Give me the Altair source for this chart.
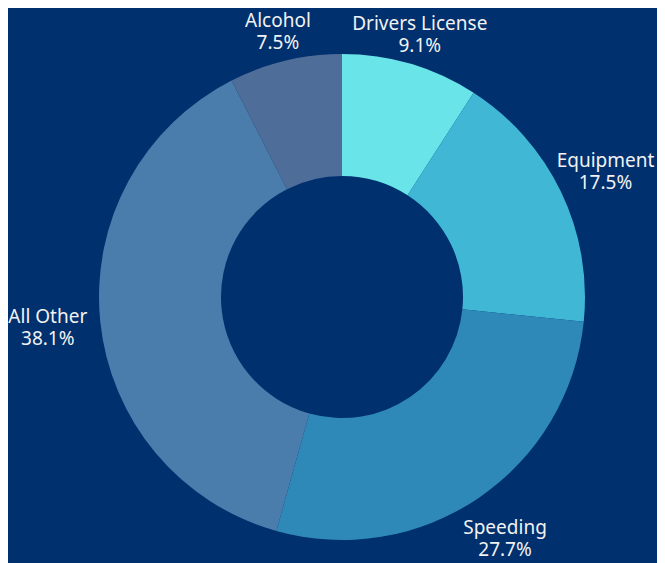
import altair as alt
import pandas as pd

categories = ["Drivers License", "Equipment", "Speeding", "All Other", "Alcohol"]
shares = [9.1, 17.5, 27.7, 38.1, 7.5]
colors = ["#69E4E8", "#41B7D6", "#2E89B8", "#4A7DAB", "#4F6D99"]
order_idx = [0, 1, 2, 3, 4]

df = pd.DataFrame({"category": categories, "share": shares, "idx": order_idx})

BG = "#00306E"
CX, CY = 334, 289

base = alt.Chart(df)

arcs = base.mark_arc(innerRadius=121, outerRadius=243).encode(
    theta=alt.Theta("share:Q", stack=True),
    order=alt.Order("idx:Q", sort="ascending"),
    color=alt.Color("category:N", scale=alt.Scale(domain=categories, range=colors), legend=None),
    x=alt.value(CX),
    y=alt.value(CY),
)

label_base = (
    base.transform_joinaggregate(total="sum(share)")
    .transform_window(cum="sum(share)", sort=[alt.SortField("idx")], frame=[None, 0])
    .transform_calculate(
        mid="(datum.cum - datum.share/2)/datum.total*2*PI",
        r="268 + 27*abs(sin(datum.mid)) + 8*max(0, -cos(datum.mid))",
        lx=f"{CX} + datum.r*sin(datum.mid)",
        ly=f"{CY} - datum.r*cos(datum.mid)",
        pct="format(datum.share, '.1f') + '%'",
    )
)

text_style = dict(font="Noto Sans", fontSize=19, color="#F2F2F2", align="center", baseline="middle")

name_text = label_base.mark_text(dy=-9, **text_style).encode(
    x=alt.X("lx:Q", scale=None, axis=None),
    y=alt.Y("ly:Q", scale=None, axis=None),
    text="category:N",
)
pct_text = label_base.mark_text(dy=13, **text_style).encode(
    x=alt.X("lx:Q", scale=None, axis=None),
    y=alt.Y("ly:Q", scale=None, axis=None),
    text="pct:N",
)

chart = (
    alt.layer(arcs, name_text, pct_text)
    .properties(width=649, height=555, autosize=alt.AutoSizeParams(type="none"), padding=0, background=BG)
    .configure_view(stroke=None)
)

chart.save("out.html", embed_options={"renderer": "svg", "actions": False})
